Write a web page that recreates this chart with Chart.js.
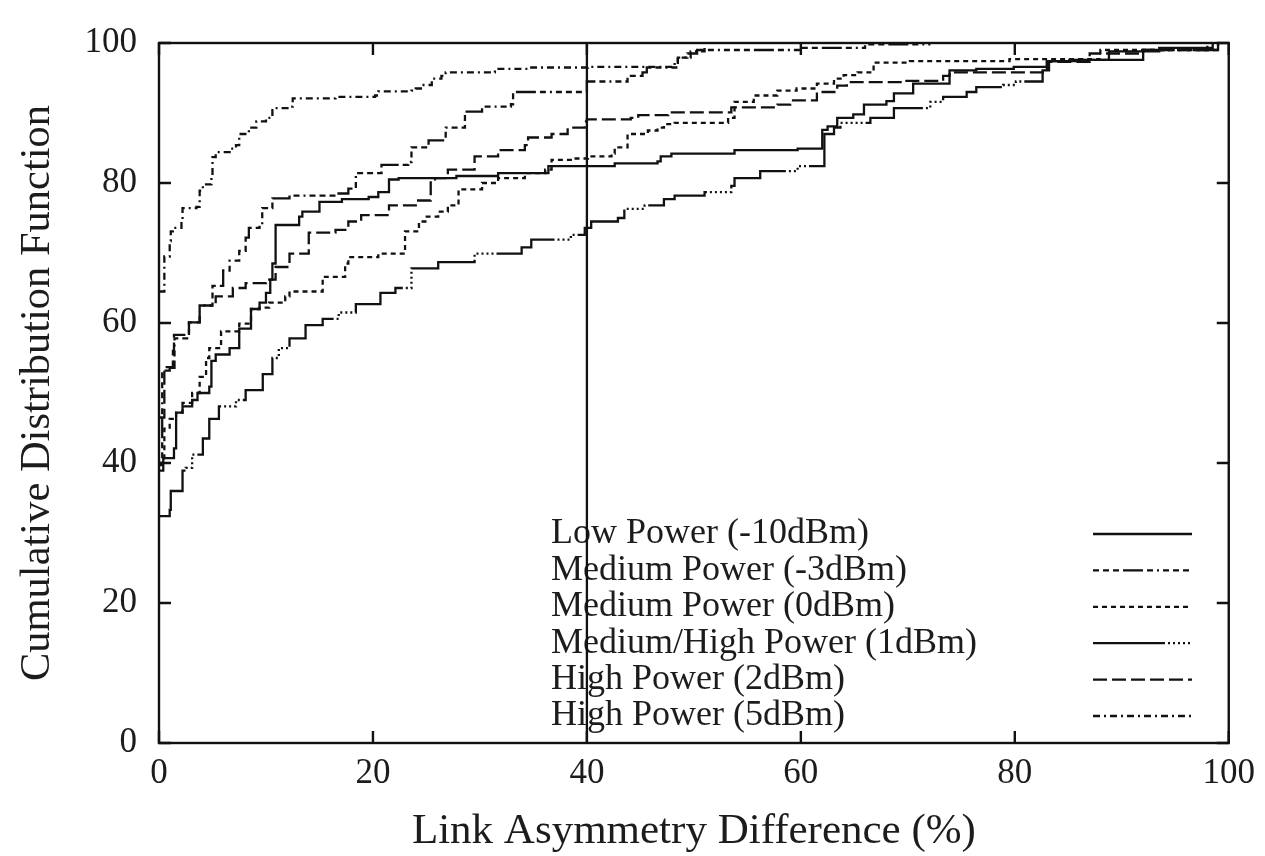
<!DOCTYPE html>
<html>
<head>
<meta charset="utf-8">
<script src="https://cdn.jsdelivr.net/npm/chart.js@4.4.1/dist/chart.umd.min.js"></script>
<style>
  html, body { margin: 0; padding: 0; background: #fff; }
  #wrap { width: 1265px; height: 856px; position: relative; }
</style>
</head>
<body>
<div id="wrap"><canvas id="c" width="1265" height="856"></canvas></div>
<script>
// Empirical CDFs of link asymmetry at six transmit powers.
// Each point is (asymmetry where the CDF steps, CDF value after the step).
const seriesLabels = [
  'Low Power (-10dBm)',
  'Medium Power (-3dBm)',
  'Medium Power (0dBm)',
  'Medium/High Power (1dBm)',
  'High Power (2dBm)',
  'High Power (5dBm)'
];

const lowX = [0, 0.4, 1.4, 1.6, 2.2, 3.1, 3.6, 4.7, 4.9, 5.3, 6.6, 7.5, 8.6, 9.4, 10.0, 10.4, 10.6, 10.9, 13.1, 13.4, 15.0, 17.1, 19.6, 20.5, 21.5, 22.4, 27.8, 31.7, 36.4, 42.6, 46.6, 46.9, 47.9, 53.8, 59.7, 62.0, 62.5, 63.4, 64.9, 65.9, 68.0, 68.7, 70.5, 73.9, 76.4, 79.9, 83.0, 85.1, 88.8, 93.5, 98.5];
const lowY = [38.9, 40.7, 42.1, 47.2, 48.1, 49.0, 50.0, 50.9, 54.6, 55.5, 56.4, 59.2, 62.0, 62.9, 64.3, 66.2, 68.5, 74.0, 75.2, 75.9, 77.3, 77.7, 78.0, 78.7, 80.5, 80.7, 81.0, 81.4, 82.4, 82.8, 83.1, 83.8, 84.2, 84.7, 84.9, 87.6, 88.1, 89.3, 89.8, 91.2, 91.7, 92.8, 94.2, 96.1, 96.3, 96.6, 97.4, 97.6, 98.8, 99.3, 100];

const medNeg3X = [0, 0.3, 1.0, 1.45, 2.8, 3.8, 5.0, 6.0, 6.6, 7.5, 8.1, 8.4, 9.4, 9.65, 10.6, 12.2, 16.5, 17.7, 18.4, 20.8, 23.3, 23.6, 25.2, 26.8, 28.6, 30.2, 32.9, 33.1, 40.0, 43.8, 45.2, 45.6, 48.5, 49.4, 50.3, 60.0, 66.0, 72.0];
const medNeg3Y = [39.7, 53.2, 53.6, 57.8, 60.1, 62.5, 65.3, 67.5, 68.9, 70.3, 72.2, 73.6, 74.0, 76.4, 77.8, 78.2, 78.5, 79.2, 81.4, 82.6, 83.0, 85.1, 86.1, 87.9, 90.2, 90.9, 91.25, 93.0, 94.5, 95.3, 95.8, 96.5, 97.9, 98.5, 99.0, 99.3, 99.8, 100];

const med0X = [0, 0.5, 1.0, 1.6, 2.2, 3.1, 3.8, 4.4, 4.7, 5.8, 7.5, 8.6, 9.4, 10.3, 11.8, 12.2, 15.3, 17.4, 17.7, 20.5, 23.0, 24.3, 24.9, 26.1, 27.0, 28.0, 30.2, 31.7, 34.2, 36.1, 36.7, 38.6, 40.1, 42.3, 42.6, 43.8, 45.7, 46.6, 47.2, 48.2, 53.2, 53.8, 55.6, 57.8, 59.6, 61.5, 63.1, 64.0, 65.3, 66.8, 70.2, 79.5, 88.0, 99.0];
const med0Y = [40.0, 44.9, 46.3, 47.2, 48.6, 50.0, 52.3, 55.0, 56.4, 58.8, 59.9, 62.0, 62.2, 62.9, 63.8, 64.5, 66.6, 68.5, 69.4, 69.9, 73.1, 74.5, 75.2, 75.9, 76.8, 79.1, 80.0, 80.7, 81.4, 81.9, 83.3, 83.5, 83.8, 84.2, 85.1, 87.0, 87.5, 87.9, 88.4, 88.6, 89.3, 91.6, 92.5, 93.2, 93.5, 94.2, 94.9, 95.4, 95.8, 97.2, 97.4, 97.7, 99.0, 100];

const medHighX = [0, 1.0, 1.1, 2.2, 2.5, 3.1, 4.1, 4.7, 5.6, 7.2, 8.1, 9.7, 10.6, 11.2, 12.2, 13.7, 15.3, 16.8, 18.4, 20.7, 22.1, 23.6, 26.1, 29.5, 33.9, 34.8, 38.5, 39.8, 40.4, 42.9, 43.5, 45.4, 47.2, 48.2, 51.0, 53.5, 53.8, 56.2, 59.7, 62.2, 63.1, 63.7, 66.5, 68.7, 72.1, 73.3, 75.5, 76.4, 78.9, 80.1, 82.6, 83.2, 85.7, 92.0, 99.0];
const medHighY = [32.4, 33.3, 36.0, 38.9, 39.3, 41.2, 43.5, 46.3, 48.1, 49.0, 50.4, 52.7, 55.0, 56.4, 57.8, 59.7, 60.6, 61.5, 62.7, 64.3, 65.0, 67.8, 68.7, 69.9, 70.8, 71.9, 72.6, 73.6, 74.5, 75.0, 76.3, 76.8, 77.7, 78.2, 78.7, 79.6, 80.7, 81.7, 82.4, 87.0, 87.9, 88.6, 89.3, 90.7, 91.6, 92.3, 93.0, 93.7, 94.0, 94.5, 96.1, 97.4, 97.6, 99.0, 100];

const high2X = [0, 0.5, 1.3, 1.4, 2.8, 3.8, 5.3, 6.9, 8.1, 10.0, 10.9, 12.2, 14.0, 16.5, 17.7, 18.9, 21.5, 24.0, 25.4, 25.8, 27.0, 29.5, 31.7, 34.2, 34.5, 36.7, 38.2, 39.8, 40.0, 44.1, 44.8, 47.6, 53.5, 57.8, 59.0, 61.5, 63.4, 64.3, 69.6, 73.3, 73.9, 83.0, 87.0, 92.0, 98.0];
const high2Y = [46.5, 53.7, 56.0, 58.3, 60.1, 62.5, 63.8, 65.0, 65.7, 66.2, 68.0, 69.9, 72.9, 73.3, 74.5, 75.4, 76.8, 77.5, 80.3, 80.7, 81.9, 83.8, 84.7, 85.4, 86.5, 87.0, 87.9, 88.8, 89.1, 89.3, 89.7, 90.1, 90.8, 91.2, 91.8, 93.0, 93.9, 94.4, 94.6, 95.3, 95.8, 97.3, 98.5, 99.0, 100];

const high5X = [0, 0.5, 1.0, 1.1, 1.3, 2.1, 2.2, 3.5, 3.8, 4.1, 4.9, 5.0, 5.3, 6.6, 7.2, 7.5, 8.4, 9.1, 10.0, 10.6, 12.2, 12.5, 16.5, 20.2, 20.5, 23.6, 24.0, 24.6, 25.5, 26.4, 26.8, 31.4, 34.8, 40.1, 48.2, 48.5, 49.7, 51.0];
const high5Y = [64.5, 69.5, 71.7, 73.1, 73.6, 74.5, 76.4, 76.6, 78.9, 79.8, 81.0, 83.7, 84.4, 84.9, 85.4, 87.0, 87.9, 88.8, 89.3, 90.7, 90.9, 92.1, 92.3, 92.5, 93.1, 93.2, 93.5, 94.0, 94.9, 95.3, 95.8, 96.3, 96.5, 96.6, 97.4, 97.9, 98.8, 100];

// Reference line at 40% asymmetry.
const markerX = [40, 40];
const markerY = [0, 100];

const xTicks = [0, 20, 40, 60, 80, 100];
const yTicks = [0, 20, 40, 60, 80, 100];

const SERIF = '"Liberation Serif", "Times New Roman", serif';
const INK = '#111111';
const TEXT = '#1c1c1c';

function pts(xs, ys) { return xs.map((x, i) => ({ x: x, y: ys[i] })); }

const dashes = [
  [],
  [6, 4, 6, 4, 6, 4, 20, 4, 6, 4, 2, 4],
  [5, 4],
  [72, 3, 2, 3, 2, 3, 2, 3, 2, 3, 2, 3],
  [14, 5],
  [7, 4, 2, 4]
];
const seriesData = [
  pts(lowX, lowY),
  pts(medNeg3X, medNeg3Y),
  pts(med0X, med0Y),
  pts(medHighX, medHighY),
  pts(high2X, high2Y),
  pts(high5X, high5Y)
];

// Horizontal run first, then the vertical jump at the next point.
const datasets = seriesData.map((d, i) => ({
  label: seriesLabels[i],
  data: d,
  showLine: true,
  stepped: 'before',
  borderColor: INK,
  borderWidth: 2.3,
  borderDash: dashes[i],
  pointRadius: 0,
  fill: false,
  inLegend: true
}));
datasets.push({
  label: 'marker',
  data: pts(markerX, markerY),
  showLine: true,
  borderColor: INK,
  borderWidth: 2.3,
  pointRadius: 0,
  fill: false,
  inLegend: false
});

// Frame with inward tick marks on all four sides.
const framePlugin = {
  id: 'frame',
  afterDraw(chart) {
    const { ctx, chartArea: a, scales: { x, y } } = chart;
    ctx.save();
    ctx.strokeStyle = INK;
    ctx.lineWidth = 2.4;
    ctx.setLineDash([]);
    ctx.strokeRect(a.left, a.top, a.right - a.left, a.bottom - a.top);
    const t = 12;
    ctx.beginPath();
    xTicks.forEach(v => {
      const px = x.getPixelForValue(v);
      ctx.moveTo(px, a.bottom); ctx.lineTo(px, a.bottom - t);
      ctx.moveTo(px, a.top); ctx.lineTo(px, a.top + t);
    });
    yTicks.forEach(v => {
      const py = y.getPixelForValue(v);
      ctx.moveTo(a.left, py); ctx.lineTo(a.left + t, py);
      ctx.moveTo(a.right, py); ctx.lineTo(a.right - t, py);
    });
    ctx.stroke();
    ctx.restore();
  }
};

// Key: label text on the left, line sample on the right.
const keyPlugin = {
  id: 'key',
  beforeDatasetsDraw(chart) {
    const { ctx } = chart;
    const items = chart.data.datasets.filter(d => d.inLegend);
    ctx.save();
    ctx.font = '36px ' + SERIF;
    ctx.fillStyle = TEXT;
    ctx.textBaseline = 'middle';
    ctx.textAlign = 'left';
    items.forEach((d, i) => {
      const yy = 534 + i * 36.4;
      ctx.fillText(d.label, 551, yy);
      ctx.strokeStyle = INK;
      ctx.lineWidth = 2.3;
      ctx.setLineDash(d.borderDash);
      ctx.beginPath();
      ctx.moveTo(1093, yy);
      ctx.lineTo(1192, yy);
      ctx.stroke();
    });
    ctx.restore();
  }
};

new Chart(document.getElementById('c'), {
  type: 'scatter',
  data: { datasets: datasets },
  options: {
    responsive: false,
    devicePixelRatio: 1,
    animation: false,
    layout: { padding: { left: 0, right: 32, top: 23, bottom: 0 } },
    plugins: { legend: { display: false }, tooltip: { enabled: false } },
    scales: {
      x: {
        type: 'linear', min: 0, max: 100,
        afterBuildTicks(s) { s.ticks = xTicks.map(v => ({ value: v })); },
        afterFit(s) { s.height = 113; },
        grid: { display: false, drawTicks: false },
        border: { display: false },
        ticks: { padding: 10, color: TEXT, font: { family: SERIF, size: 35 } },
        title: { display: true, text: 'Link Asymmetry Difference (%)', color: TEXT,
                 font: { family: SERIF, size: 43, lineHeight: 1.05 }, padding: { top: 0, bottom: 2 } }
      },
      y: {
        type: 'linear', min: 0, max: 100,
        afterBuildTicks(s) { s.ticks = yTicks.map(v => ({ value: v })); },
        afterFit(s) { s.width = 159; },
        grid: { display: false, drawTicks: false },
        border: { display: false },
        ticks: { padding: 22, color: TEXT, font: { family: SERIF, size: 35 } },
        title: { display: true, text: 'Cumulative Distribution Function', color: TEXT,
                 font: { family: SERIF, size: 42.5 }, padding: { top: 12, bottom: 0 } }
      }
    }
  },
  plugins: [framePlugin, keyPlugin]
});
</script>
</body>
</html>
